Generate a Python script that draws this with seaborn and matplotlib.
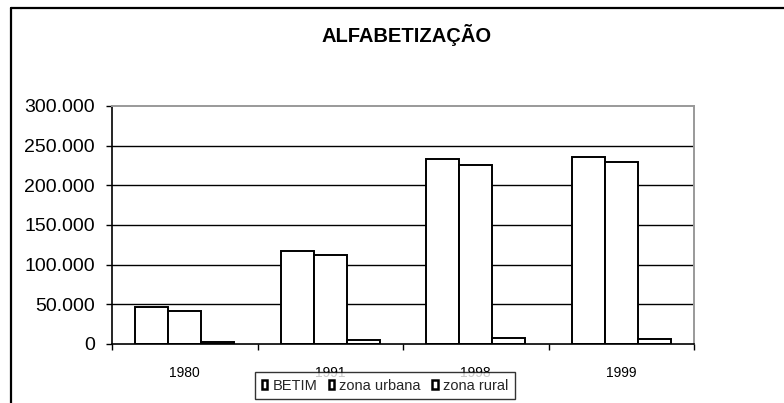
import matplotlib
matplotlib.use("Agg")
import matplotlib.pyplot as plt
from matplotlib.patches import Patch
from matplotlib.lines import Line2D
from matplotlib.ticker import FuncFormatter, FixedLocator
import seaborn as sns
import pandas as pd

# Literacy counts per year: total, urban zone, rural zone
years = ["1980", "1991", "1998", "1999"]
series_names = ["BETIM", "zona urbana", "zona rural"]
betim = [47000, 117600, 233600, 236000]
zona_urbana = [42000, 112600, 226000, 229000]
zona_rural = [2500, 4700, 7000, 6700]
y_ticks = [0, 50000, 100000, 150000, 200000, 250000, 300000]
title = "ALFABETIZAÇÃO"

df = pd.DataFrame({
    "ano": years * 3,
    "serie": [series_names[0]] * 4 + [series_names[1]] * 4 + [series_names[2]] * 4,
    "valor": betim + zona_urbana + zona_rural,
})

sns.set_theme(style="white")
plt.rcParams["font.family"] = ["Liberation Sans", "DejaVu Sans"]

W, H = 784, 403
fig = plt.figure(figsize=(W / 100, H / 100), dpi=100)
ax = fig.add_axes([112 / W, 1 - 344 / H, (694 - 112) / W, (344 - 106) / H])

sns.barplot(
    data=df, x="ano", y="valor", hue="serie", order=years, hue_order=series_names,
    palette=["white"] * 3, edgecolor="black", linewidth=1.4, width=0.68,
    gap=0, saturation=1, errorbar=None, legend=False, ax=ax,
)

ax.set_xlim(-0.5, len(years) - 0.5)
ax.set_ylim(0, 300000)
ax.yaxis.set_major_locator(FixedLocator(y_ticks))
ax.yaxis.set_major_formatter(FuncFormatter(lambda v, p: f"{int(v):,}".replace(",", ".")))
ax.set_xlabel("")
ax.set_ylabel("")

# horizontal gridlines
for t in y_ticks[1:-1]:
    ax.axhline(t, color="black", lw=1.0, zorder=0.5)

ax.tick_params(axis="y", direction="out", length=4.5, width=1, color="black",
               labelsize=14, pad=8, left=True)
ax.tick_params(axis="x", which="major", length=0, labelsize=10, pad=15.5)
ax.set_xticks([i + 0.5 for i in range(-1, len(years))], minor=True)
ax.tick_params(axis="x", which="minor", direction="out", length=4.5, width=1,
               color="black", bottom=True)
for lab in ax.get_yticklabels() + ax.get_xticklabels():
    lab.set_color("black")

for side in ["left", "bottom"]:
    ax.spines[side].set_color("black")
    ax.spines[side].set_linewidth(1.2)
for side in ["top", "right"]:
    ax.spines[side].set_color("#999999")
    ax.spines[side].set_linewidth(1.4)

fig.text(407 / W, 1 - 35 / H, title, ha="center", va="center",
         fontsize=14.5, fontweight="bold", color="black")

# chart frame
fig.add_artist(Line2D([11 / W, 1.0], [1 - 8 / H, 1 - 8 / H], transform=fig.transFigure,
                      color="black", lw=1.6))
fig.add_artist(Line2D([11 / W, 11 / W], [1 - 8 / H, 0.0], transform=fig.transFigure,
                      color="black", lw=1.6))

handles = [Patch(facecolor="white", edgecolor="black", linewidth=1.8) for _ in series_names]
leg = fig.legend(
    handles, series_names, loc="upper left",
    bbox_to_anchor=(255 / W, 1 - 400 / H, 260 / W, 28 / H), bbox_transform=fig.transFigure,
    mode="expand", ncol=3, fontsize=10.5, frameon=True, fancybox=False, shadow=False,
    handlelength=0.4, handleheight=0.6, handletextpad=0.35, columnspacing=0.5,
    borderpad=0.45, borderaxespad=0,
)
leg.get_frame().set_edgecolor("black")
leg.get_frame().set_linewidth(1.0)
leg.get_frame().set_facecolor("white")
leg.set_zorder(10)

fig.savefig("out.png", dpi=100, facecolor="white")
